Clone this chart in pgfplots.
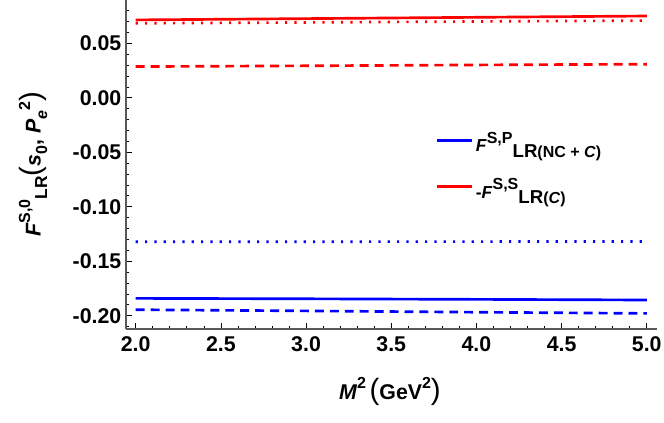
\documentclass[border=0pt]{standalone}
\usepackage{fontspec}
\setmainfont{Liberation Sans}
\usepackage{pgfplots}
\pgfplotsset{compat=1.18}

\newcommand{\sps}[2][11]{\raisebox{0.5em}{\fontsize{#1}{#1}\selectfont\bfseries #2}}
\newcommand{\sbs}[2][12]{\raisebox{-0.3em}{\fontsize{#1}{#1}\selectfont\bfseries #2}}
\newcommand{\bigp}[1]{{\fontsize{22}{22}\selectfont\mdseries #1}}

\begin{document}
\begin{tikzpicture}
\begin{axis}[
  scale only axis,
  width=398.25pt, height=246.75pt,
  xmin=1.943, xmax=5.06,
  ymin=-0.2122, ymax=0.0897,
  axis x line*=bottom, axis y line*=left,
  axis line style={-, black!65, line width=0.8pt},
  tick align=inside,
  major tick length=4.5pt, minor tick length=2.5pt,
  tick style={black, line width=0.5pt},
  xtick={2,2.5,3,3.5,4,4.5,5},
  minor xtick={2.1,2.2,2.3,2.4,2.6,2.7,2.8,2.9,3.1,3.2,3.3,3.4,3.6,3.7,3.8,3.9,4.1,4.2,4.3,4.4,4.6,4.7,4.8,4.9},
  ytick={-0.2,-0.15,-0.1,-0.05,0,0.05},
  minor ytick={-0.21,-0.19,-0.18,-0.17,-0.16,-0.14,-0.13,-0.12,-0.11,-0.09,-0.08,-0.07,-0.06,-0.04,-0.03,-0.02,-0.01,0.01,0.02,0.03,0.04,0.06,0.07,0.08},
  xticklabel style={yshift=-2pt, /pgf/number format/.cd, fixed, fixed zerofill, precision=1, assume math mode=true},
  yticklabel style={/pgf/number format/.cd, fixed, fixed zerofill, precision=2, assume math mode=true},
  tick label style={font=\fontsize{16}{19}\selectfont\bfseries},
  xlabel={\textbf{\textit{M}}\sps[12]{2}\,\bigp{(}\textbf{GeV}\sps[12]{2}\bigp{)}},
  x label style={at={(axis description cs:0.497,-0.19)}, anchor=center, font=\fontsize{16}{19}\selectfont\bfseries},
  ylabel={\textbf{\textit{F}}\sps[12]{S,0}\sbs[13]{LR}\bigp{(}\textbf{\textit{s}}\sbs[12]{0}\textbf{, }\textbf{\textit{P}}\sbs[12]{\textit{e}}\sps[12]{2}\bigp{)}},
  y label style={at={(axis description cs:-0.175,0.5)}, anchor=center, font=\fontsize{16}{19}\selectfont\bfseries},
  legend style={draw=none, fill=none, at={(axis description cs:0.575,0.495)}, anchor=west,
    font=\fontsize{13}{15}\selectfont\bfseries, row sep=14.5pt},
  legend cell align=left,
  legend image code/.code={\draw[#1, line width=2.2pt] (0pt,2pt) -- (26pt,2pt);},
]
% solid lines
\addplot[blue, line width=2pt] coordinates {(2,-0.1841) (3,-0.1845) (4,-0.1850) (5,-0.1856)};
\addlegendentry{\textbf{\textit{F}}\sps[12]{S,P}\sbs[14]{LR}\sbs[12]{(NC + \textit{C})}}
\addplot[red, line width=2pt] coordinates {(2,0.0714) (3,0.0726) (4,0.0738) (5,0.0750)};
\addlegendentry{\textbf{-}\textbf{\textit{F}}\sps[12]{S,S}\sbs[14]{LR}\sbs[12]{(\textit{C})}}
% dotted lines
\addplot[forget plot, blue, line width=2pt, dash pattern=on 1.6pt off 5.4pt] coordinates {(2,-0.1322) (3,-0.1321) (4,-0.1320) (5,-0.1319)};
\addplot[forget plot, red, line width=2pt, dash pattern=on 1.6pt off 5.4pt] coordinates {(2,0.0683) (3,0.0691) (4,0.0700) (5,0.0708)};
% dashed lines
\addplot[forget plot, blue, line width=2pt, dash pattern=on 6.7pt off 4.5pt] coordinates {(2,-0.1945) (3,-0.1956) (4,-0.1968) (5,-0.1979)};
\addplot[forget plot, red, line width=2pt, dash pattern=on 6.7pt off 4.5pt] coordinates {(2,0.0286) (3,0.0293) (4,0.0301) (5,0.0308)};
\end{axis}
\pgfresetboundingbox
\path (current axis.south west) ++(-94.5pt,-70.5pt) rectangle ++(498pt,317.25pt);
\end{tikzpicture}
\end{document}
